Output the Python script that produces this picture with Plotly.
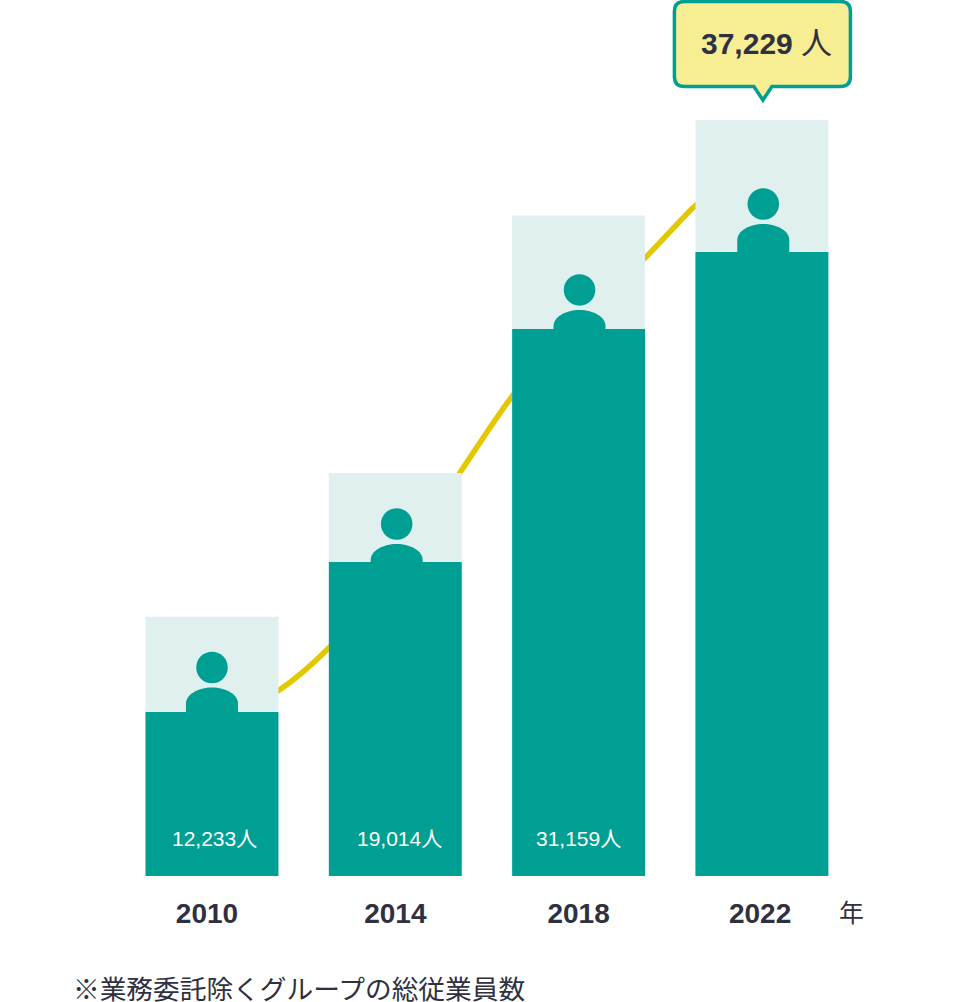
import plotly.graph_objects as go

# ---- data ----
years = [2010, 2014, 2018, 2022]
bar_total = [12233, 19014, 31159, 35660]      # drawn height of the pale bars
bar_fill = [7736, 14811, 25802, 29434]        # drawn height of the dark bars
value_labels = ["12,233", "19,014", "31,159"]
callout_label = "37,229"
tick_labels = ["2010", "2014", "2018", "2022"]
tick_pos = [2009.89, 2014, 2018, 2021.96]
label_pos = [2010.05, 2014.1, 2018.0]
icon_x = [2010, 2014.03, 2018.02, 2022.03]
icon_y = [9835, 16604, 27642, 31698]          # height of the head centre on the value scale
line_x = [2010, 2011.44, 2012.55, 2014, 2015.45, 2016.57, 2018, 2019.45, 2020.56, 2022]
line_y = [7123, 8726, 10755, 14434, 19151, 22689, 26226, 29151, 31651, 34245]
unit = "人"
year_unit = "年"
footnote = "※業務委託除くグループの総従業員数"

# ---- style ----
TEAL = "#009f94"
PALE = "#dff0ee"
YELLOW = "#e3c800"
CREAM = "#f7ee93"
INK = "#2f3040"
NARROW = "Liberation Sans, Noto Sans CJK JP, sans-serif"
CJK = "Noto Sans CJK JP, sans-serif"
YMAX = 41320
XR = [2005.374, 2026.41]
W, H, PLOT_H = 964, 1002, 876
# body outline relative to the head centre: its top sits 20 px below the centre and
# it runs down into the dark bar
BODY = "M -26 -50 L -26 -28 C -26 -15 -13 -20 0 -20 C 13 -20 26 -15 26 -28 L 26 -50 Z"
BODY = "M -26 -50 L -26 -36 C -26 -27 -14 -20 0 -20 C 14 -20 26 -27 26 -36 L 26 -50 Z"
CALLOUT = ("M -77.5 118.5 L 78.5 118.5 Q 88.5 118.5 88.5 108.5 L 88.5 43.5 Q 88.5 33.5 78.5 33.5 "
           "L 10 33.5 L 1 20 L -8 33.5 L -77.5 33.5 Q -87.5 33.5 -87.5 43.5 L -87.5 108.5 Q -87.5 118.5 -77.5 118.5 Z")
px_per_unit = PLOT_H / YMAX

fig = go.Figure()
fig.add_trace(go.Scatter(x=line_x, y=line_y, mode="lines", xaxis="x", yaxis="y",
                         line=dict(color=YELLOW, width=5.5, shape="spline", smoothing=0.8),
                         hoverinfo="skip"))
fig.add_trace(go.Bar(x=years, y=bar_total, width=2.9, marker=dict(color=PALE, line_width=0),
                     xaxis="x", yaxis="y2", hoverinfo="skip"))
fig.add_trace(go.Bar(x=years, y=bar_fill, width=2.9, marker=dict(color=TEAL, line_width=0),
                     xaxis="x", yaxis="y2", hoverinfo="skip"))
fig.add_trace(go.Scatter(x=icon_x, y=icon_y, mode="markers",
                         xaxis="x", yaxis="y2", hoverinfo="skip",
                         marker=dict(color=TEAL, size=31.5, line_width=0)))

shapes = [dict(type="path", layer="above", xref="x", yref="y2", xsizemode="pixel", ysizemode="pixel",
               xanchor=ix, yanchor=iy, path=BODY, fillcolor=TEAL, line_width=0)
          for ix, iy in zip(icon_x, icon_y)]
shapes.append(dict(type="path", layer="above", xref="x", yref="y2", xsizemode="pixel", ysizemode="pixel",
                   xanchor=years[3], yanchor=bar_total[3], path=CALLOUT, fillcolor=CREAM,
                   line=dict(color=TEAL, width=3.5)))

annotations = [dict(x=px, y=38 / px_per_unit, xref="x", yref="y2", showarrow=False, xanchor="center",
                    yanchor="middle", text=f"{t}{unit}", font=dict(family=NARROW, size=21, color="#ffffff"))
               for px, t in zip(label_pos, value_labels)]
annotations += [
    dict(x=years[3] + 0.1, y=bar_total[3] + 76 / px_per_unit, xref="x", yref="y2", showarrow=False,
         xanchor="center", yanchor="middle",
         text=f"<b>{callout_label}</b> <span style='font-size:31px'>{unit}</span>",
         font=dict(family=NARROW, size=30, color=INK)),
    dict(x=851 / W, y=(PLOT_H - 911) / PLOT_H, xref="paper", yref="paper", showarrow=False,
         xanchor="center", yanchor="middle", text=year_unit, font=dict(family=CJK, size=25, color=INK)),
    dict(x=71 / W, y=(PLOT_H - 987) / PLOT_H, xref="paper", yref="paper", showarrow=False,
         xanchor="left", yanchor="middle", text=footnote, font=dict(family=CJK, size=26.7, color=INK)),
]

fig.update_layout(
    width=W, height=H, autosize=False, showlegend=False, barmode="overlay",
    margin=dict(l=0, r=0, t=0, b=H - PLOT_H, pad=0),
    paper_bgcolor="#ffffff", plot_bgcolor="#ffffff",
    xaxis=dict(range=XR, tickmode="array", tickvals=tick_pos, ticktext=tick_labels, showgrid=False,
               zeroline=False, showline=False, ticks="", ticklabelstandoff=18, fixedrange=True,
               tickfont=dict(family=NARROW, size=28, color=INK, weight=700)),
    yaxis=dict(range=[0, YMAX], visible=False, fixedrange=True),
    yaxis2=dict(range=[0, YMAX], visible=False, overlaying="y", fixedrange=True),
    shapes=shapes, annotations=annotations, hovermode=False,
)
fig.write_html("out.html", config={"displayModeBar": False},
               post_script="document.body.style.margin='0';document.documentElement.style.overflow='hidden';")
